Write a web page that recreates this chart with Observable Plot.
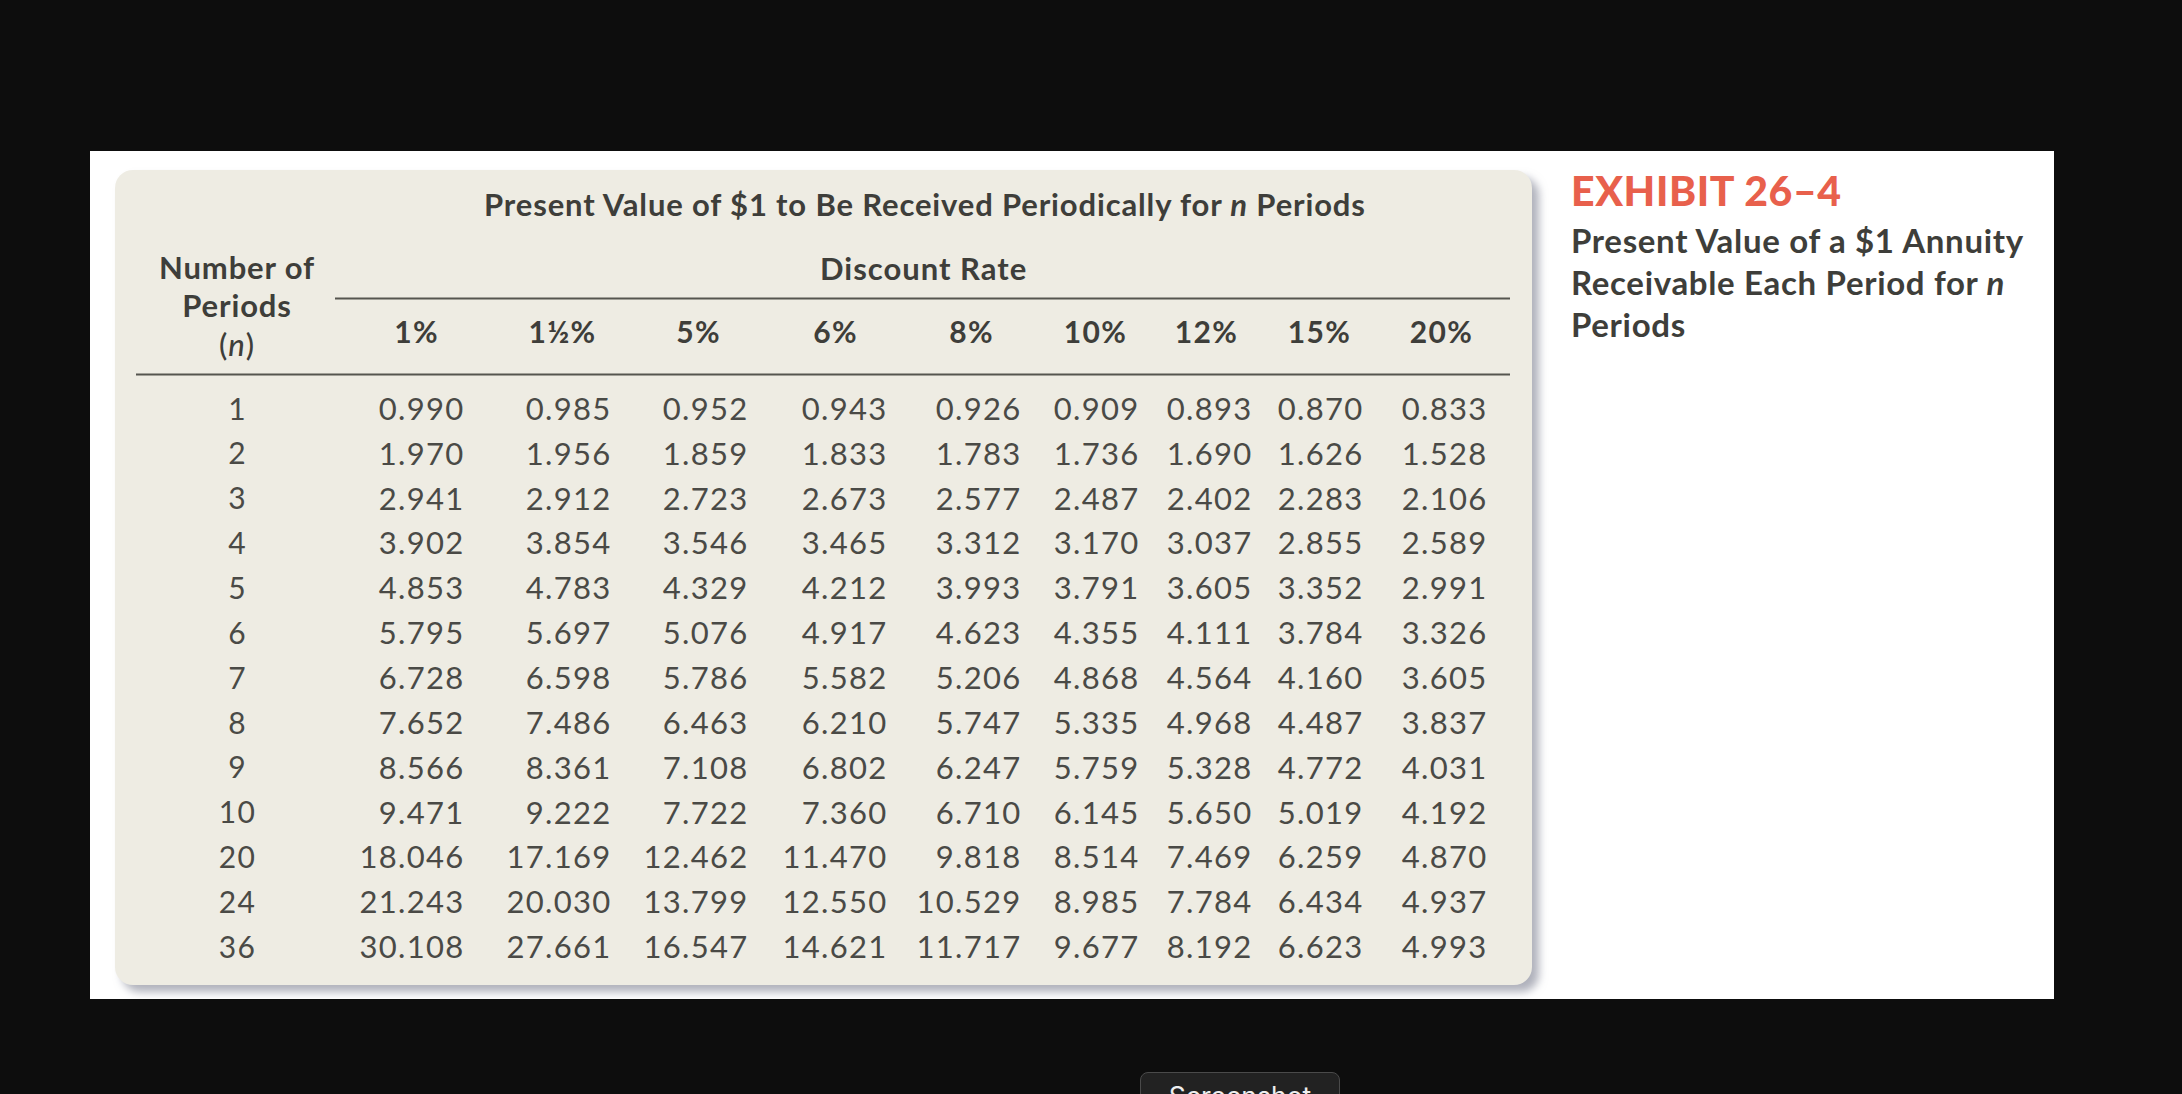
<!DOCTYPE html>
<html>
<head>
<meta charset="utf-8">
<script src="https://cdn.jsdelivr.net/npm/d3@7"></script>
<script src="https://cdn.jsdelivr.net/npm/@observablehq/plot@0.6"></script>
<style>
  html, body { margin: 0; background: #0d0d0d; width: 2182px; height: 1094px; overflow: hidden; }
  body { position: relative; font-family: Lato, sans-serif; }
  #panel { position: absolute; left: 90px; top: 151px; width: 1964px; height: 848px; background: #fff; overflow: hidden; }
  #card { position: absolute; left: 25px; top: 19px; width: 1417px; height: 815px; background: #eeece3;
          border-radius: 18px; box-shadow: 7px 7px 9px rgba(150,152,165,.75); }
  #chart { position: absolute; left: 0; top: 0; }
  #chart svg { background: transparent; }
  #chart text { letter-spacing: 1.3px; }
  .t { position: absolute; white-space: nowrap; color: #3e3e3a; font-weight: 700; letter-spacing: .85px; }
  #screenshot { position: absolute; left: 1140px; top: 1072px; width: 198px; height: 40px; background: #222;
                border: 1px solid #4a4a4a; border-radius: 8px; color: #eee; font: 26.5px/46px Inter, sans-serif; text-align: center; }
</style>
</head>
<body>
<div id="panel"><div id="card"></div></div>
<div id="chart"></div>

<div class="t" style="left:484px;top:184.5px;font-size:31px">Present Value of $1 to Be Received Periodically for <i>n</i> Periods</div>
<div class="t" style="left:820px;top:248.5px;font-size:31px;letter-spacing:1px">Discount Rate</div>
<div class="t" style="left:137px;top:247.5px;width:200px;text-align:center;font-size:31px;line-height:38.5px">Number of<br>Periods<br><span style="font-weight:500">(<i>n</i>)</span></div>
<div class="t" style="left:1571px;top:166px;font-size:41px;color:#e8604c;font-weight:900;letter-spacing:.6px">EXHIBIT 26–4</div>
<div class="t" style="left:1571px;top:218.5px;font-size:33px;line-height:42px;letter-spacing:.67px">Present Value of a $1 Annuity<br>Receivable Each Period for <i>n</i><br>Periods</div>
<div id="screenshot">Screenshot</div>

<script>
const periods = ["1","2","3","4","5","6","7","8","9","10","20","24","36"]
const rates = ["1%","1½%","5%","6%","8%","10%","12%","15%","20%"]

const r1 = [0.990,1.970,2.941,3.902,4.853,5.795,6.728,7.652,8.566,9.471,18.046,21.243,30.108]
const r1h = [0.985,1.956,2.912,3.854,4.783,5.697,6.598,7.486,8.361,9.222,17.169,20.030,27.661]
const r5 = [0.952,1.859,2.723,3.546,4.329,5.076,5.786,6.463,7.108,7.722,12.462,13.799,16.547]
const r6 = [0.943,1.833,2.673,3.465,4.212,4.917,5.582,6.210,6.802,7.360,11.470,12.550,14.621]
const r8 = [0.926,1.783,2.577,3.312,3.993,4.623,5.206,5.747,6.247,6.710,9.818,10.529,11.717]
const r10 = [0.909,1.736,2.487,3.170,3.791,4.355,4.868,5.335,5.759,6.145,8.514,8.985,9.677]
const r12 = [0.893,1.690,2.402,3.037,3.605,4.111,4.564,4.968,5.328,5.650,7.469,7.784,8.192]
const r15 = [0.870,1.626,2.283,2.855,3.352,3.784,4.160,4.487,4.772,5.019,6.259,6.434,6.623]
const r20 = [0.833,1.528,2.106,2.589,2.991,3.326,3.605,3.837,4.031,4.192,4.870,4.937,4.993]

const series = [r1, r1h, r5, r6, r8, r10, r12, r15, r20]

// tabla larga para Plot.text
const cells = rates.flatMap((rate, i) => periods.map((n, j) => ({rate, n, value: series[i][j]})))

const font = "Lato, sans-serif"
const headerShift = [-48, -49, -50, -52, -50, -44, -46, -44, -46]

let chart = Plot.plot({
  width: 2182,
  height: 1094,
  margin: 0,
  style: {background: "transparent"},
  x: {
    type: "ordinal",
    domain: ["left", "mid", "n", ...rates, "right"],
    range: [136, 335, 237, 464, 611, 748, 887, 1021, 1139, 1252, 1363, 1487, 1510],
    axis: null
  },
  y: {
    type: "ordinal",
    domain: ["top", "head", "bottom", ...periods],
    range: [298, 333, 374, ...d3.range(13).map(i => 409.5 + i * 44.85)],
    axis: null
  },
  marks: [
    Plot.ruleY(["top"], {y: d => d, x1: () => "mid", x2: () => "right", stroke: "#55554f", strokeWidth: 2}),
    Plot.ruleY(["bottom"], {y: d => d, x1: () => "left", x2: () => "right", stroke: "#55554f", strokeWidth: 2}),
    ...rates.map((rate, i) => Plot.text([rate], {
      x: d => d, y: () => "head", text: d => d, dx: headerShift[i],
      fontFamily: font, fontSize: 30, fontWeight: 700, fill: "#3e3e3a"
    })),
    Plot.text(periods, {x: () => "n", y: d => d, text: d => d, fontFamily: font, fontSize: 30, fill: "#4a4a46"}),
    Plot.text(cells, {
      x: "rate", y: "n", text: d => d3.format(".3f")(d.value), textAnchor: "end",
      fontFamily: font, fontSize: 31, fill: "#4a4a46"
    })
  ]
})

d3.select("#chart").append(() => chart)
</script>
</body>
</html>
